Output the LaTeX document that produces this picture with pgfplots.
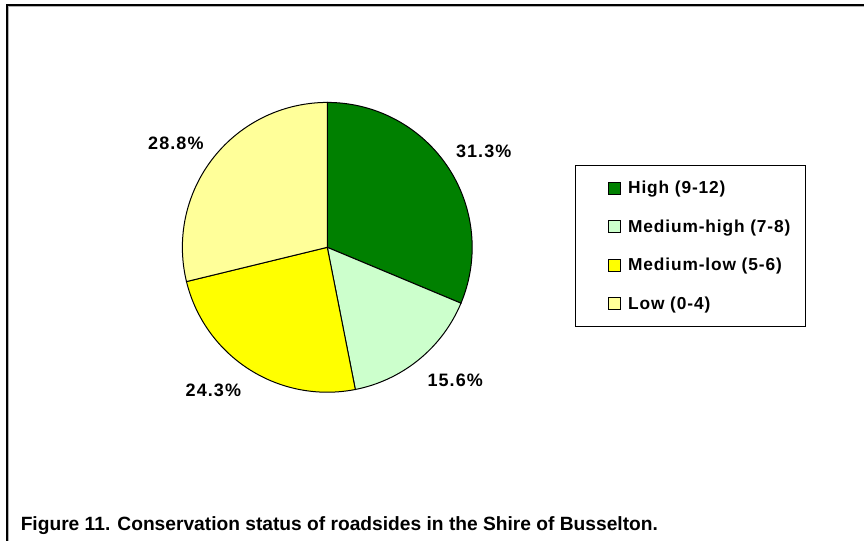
\documentclass[border=0pt]{standalone}
\usepackage{pgfplots}
\pgfplotsset{compat=1.18}
\usepackage{fontspec}
\setmainfont{Liberation Sans}
\newfontfamily\capfont{Liberation Sans}
\newfontfamily\spfont[LetterSpace=5]{Liberation Sans}
\newfontfamily\lbfont[LetterSpace=6]{Liberation Sans}
\definecolor{cHigh}{HTML}{008000}
\definecolor{cMedHigh}{HTML}{CCFFCC}
\definecolor{cMedLow}{HTML}{FFFF00}
\definecolor{cLow}{HTML}{FFFF99}
% pie centre and radius (pixel units of the 865x541 canvas, y upwards)
\def\cx{327.5}
\def\cy{293.5}
\def\rr{145}
\begin{document}
\begin{tikzpicture}
\begin{axis}[
  width=648.75pt, height=405.75pt, scale only axis,
  xmin=0, xmax=865, ymin=0, ymax=541,
  hide axis, clip=false,
  legend style={at={(0.66474,0.69501)}, anchor=north west,
    draw=black, line width=0.6pt, fill=white,
    inner xsep=11.25pt, inner ysep=2.8pt,
    font=\spfont\fontsize{13}{15}\selectfont\bfseries,
    nodes={inner sep=0pt, minimum height=28.9pt},
    /tikz/every odd column/.append style={column sep=5.5pt}},
  legend cell align=left,
  legend image code/.code={%
    \path (0pt,0pt);
    \draw[#1, line width=0.6pt] (13.5pt,-4.5pt) rectangle (22.5pt,4.5pt);},
]
\path (axis cs:0,0) rectangle (axis cs:865,541);
% cumulative percentages: High 31.3, Medium-high 15.6, Medium-low 24.3, Low 28.8
\addplot[fill=cHigh, draw=black, line width=0.75pt, domain=0:31.3, samples=80, variable=\t]
  ({\cx+\rr*cos(90-3.6*\t)},{\cy+\rr*sin(90-3.6*\t)}) -- (axis cs:\cx,\cy) -- cycle;
\addlegendentry{High (9-12)}
\addplot[fill=cMedHigh, draw=black, line width=0.75pt, domain=31.3:46.9, samples=60, variable=\t]
  ({\cx+\rr*cos(90-3.6*\t)},{\cy+\rr*sin(90-3.6*\t)}) -- (axis cs:\cx,\cy) -- cycle;
\addlegendentry{Medium-high (7-8)}
\addplot[fill=cMedLow, draw=black, line width=0.75pt, domain=46.9:71.2, samples=70, variable=\t]
  ({\cx+\rr*cos(90-3.6*\t)},{\cy+\rr*sin(90-3.6*\t)}) -- (axis cs:\cx,\cy) -- cycle;
\addlegendentry{Medium-low (5-6)}
\addplot[fill=cLow, draw=black, line width=0.75pt, domain=71.2:100, samples=80, variable=\t]
  ({\cx+\rr*cos(90-3.6*\t)},{\cy+\rr*sin(90-3.6*\t)}) -- (axis cs:\cx,\cy) -- cycle;
\addlegendentry{Low (0-4)}
% data labels
\begin{scope}[every node/.style={font=\lbfont\fontsize{13.5}{16}\selectfont\bfseries, inner sep=0pt}]
\node at (axis cs:484,389.8) {31.3\%};
\node at (axis cs:455.5,160.5) {15.6\%};
\node at (axis cs:213.5,150) {24.3\%};
\node at (axis cs:176,397.7) {28.8\%};
\end{scope}
% outer frame (top and left edges visible)
\draw[gray!60, line width=0.8pt] (axis cs:8.6,0) -- (axis cs:8.6,534.4) -- (axis cs:865,534.4);
\draw[black, line width=0.9pt] (axis cs:7,0) -- (axis cs:7,536) -- (axis cs:865,536);
% caption
\node[anchor=base west, inner sep=0pt, font=\capfont\fontsize{14.4}{16}\selectfont\bfseries]
  at (axis cs:20.5,10) {Figure 11. Conservation status of roadsides in the Shire of Busselton.};
\end{axis}
\end{tikzpicture}
\end{document}
